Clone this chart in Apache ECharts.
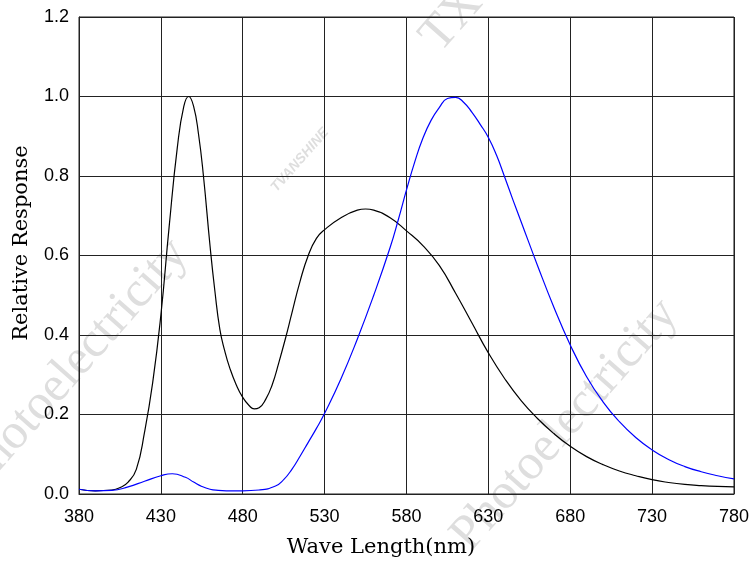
<!DOCTYPE html>
<html>
<head>
<meta charset="utf-8">
<script src="https://cdn.jsdelivr.net/npm/echarts@6/dist/echarts.min.js"></script>
<style>
  html, body { margin: 0; padding: 0; background: #fff; }
  #main { width: 752px; height: 563px; }
</style>
</head>
<body>
<div id="main"></div>
<script>
var myChart = echarts.init(document.getElementById('main'));

// black curve (wavelength nm, relative response)
var wlBlack = [380, 390, 400, 405, 410, 415, 420, 425, 430, 435, 440, 444, 447, 450, 453, 456, 460, 463, 466, 469, 472, 476, 480, 484, 487, 490, 494, 498, 502, 506, 510, 515, 520, 525, 530, 540, 550, 555, 560, 570, 580, 590, 600, 610, 620, 630, 640, 650, 660, 670, 680, 690, 700, 710, 720, 730, 740, 750, 760, 770, 780];
var respBlack = [0.012, 0.008, 0.010, 0.016, 0.030, 0.062, 0.155, 0.28, 0.45, 0.67, 0.87, 0.975, 1.0, 0.975, 0.905, 0.80, 0.625, 0.51, 0.415, 0.36, 0.318, 0.275, 0.243, 0.222, 0.214, 0.217, 0.238, 0.275, 0.33, 0.39, 0.455, 0.535, 0.60, 0.643, 0.665, 0.695, 0.714, 0.717, 0.714, 0.695, 0.662, 0.625, 0.575, 0.505, 0.43, 0.355, 0.29, 0.235, 0.19, 0.152, 0.12, 0.094, 0.074, 0.058, 0.046, 0.036, 0.029, 0.024, 0.021, 0.019, 0.018];

// blue curve
var wlBlue = [380, 390, 400, 410, 420, 430, 437, 445, 450, 455, 460, 465, 470, 480, 490, 500, 505, 510, 515, 520, 525, 530, 540, 550, 560, 570, 575, 580, 585, 590, 595, 600, 605, 610, 615, 620, 625, 630, 635, 640, 645, 650, 660, 670, 680, 690, 700, 710, 720, 730, 740, 750, 760, 770, 780];
var respBlue = [0.012, 0.008, 0.009, 0.018, 0.032, 0.046, 0.051, 0.042, 0.030, 0.019, 0.012, 0.009, 0.008, 0.008, 0.010, 0.020, 0.036, 0.062, 0.095, 0.13, 0.165, 0.203, 0.29, 0.39, 0.50, 0.62, 0.69, 0.765, 0.835, 0.895, 0.94, 0.972, 0.995, 0.998, 0.985, 0.96, 0.93, 0.897, 0.852, 0.797, 0.74, 0.685, 0.575, 0.47, 0.375, 0.295, 0.232, 0.182, 0.142, 0.111, 0.087, 0.069, 0.056, 0.046, 0.038];

function pairs(xs, ys) {
  return xs.map(function (x, i) { return [x, ys[i]]; });
}

var wm = '#dedede';
var option = {
  animation: false,
  grid: { left: 79, right: 17, top: 17, bottom: 69, show: true, borderColor: '#222', borderWidth: 1 },
  xAxis: {
    type: 'value', min: 380, max: 780, interval: 50,
    axisLine: { show: true, lineStyle: { color: '#222' } },
    axisTick: { show: false },
    splitLine: { show: true, lineStyle: { color: '#222', width: 1 } },
    axisLabel: { color: '#000', fontFamily: 'Liberation Sans', fontSize: 18, margin: 14 }
  },
  yAxis: {
    type: 'value', min: 0, max: 1.2, interval: 0.2,
    axisLine: { show: true, lineStyle: { color: '#222' } },
    axisTick: { show: false },
    splitLine: { show: true, lineStyle: { color: '#222', width: 1 } },
    axisLabel: { color: '#000', fontFamily: 'Liberation Sans', fontSize: 18, margin: 10,
      formatter: function (v) { return v.toFixed(1); } }
  },
  graphic: [
    { type: 'text', x: 381, y: 548, style: { text: 'Wave Length(nm)', font: '21px "DejaVu Serif"', fill: '#000', textAlign: 'center', textVerticalAlign: 'middle' } },
    { type: 'text', x: 22, y: 243, rotation: Math.PI / 2, style: { text: 'Relative Response', font: '21px "DejaVu Serif"', fill: '#000', textAlign: 'center', textVerticalAlign: 'middle' } },
    { type: 'text', x: 565, y: 425, rotation: 0.85, z: -1, style: { text: 'Photoelectricity', font: '50px "Liberation Serif"', fill: wm, textAlign: 'center', textVerticalAlign: 'middle' } },
    { type: 'text', x: 75, y: 365, rotation: 0.85, z: -1, style: { text: 'Photoelectricity', font: '50px "Liberation Serif"', fill: wm, textAlign: 'center', textVerticalAlign: 'middle' } },
    { type: 'text', x: 430, y: 45, rotation: 0.85, z: -1, style: { text: 'TX Photoelectricity', font: '50px "Liberation Serif"', fill: wm, textAlign: 'left', textVerticalAlign: 'middle' } },
    { type: 'text', x: 300, y: 160, rotation: 0.85, z: -1, style: { text: 'TVANSHINE', font: 'bold italic 14px "Liberation Sans"', fill: wm, textAlign: 'center', textVerticalAlign: 'middle' } }
  ],
  series: [
    {
      type: 'line', data: pairs(wlBlack, respBlack), smooth: 0.5, showSymbol: false,
      lineStyle: { color: '#000', width: 1.2 }, z: 3
    },
    {
      type: 'line', data: pairs(wlBlue, respBlue), smooth: 0.5, showSymbol: false,
      lineStyle: { color: '#0000ff', width: 1.2 }, z: 3
    }
  ]
};
myChart.setOption(option);
</script>
</body>
</html>
